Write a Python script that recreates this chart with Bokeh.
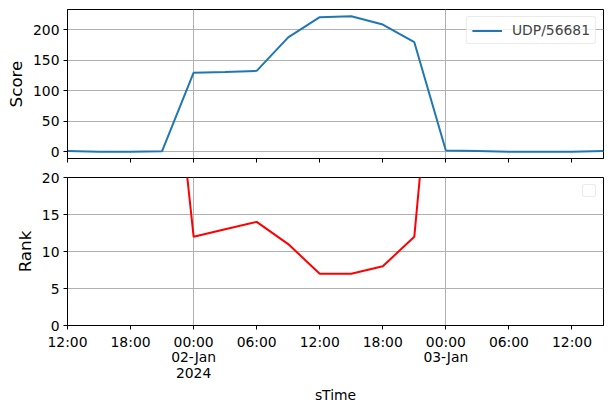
import pandas as pd
from bokeh.plotting import figure
from bokeh.layouts import column
from bokeh.models import Range1d, FixedTicker, Legend, LegendItem, ColumnDataSource
from bokeh.embed import file_html
from bokeh.resources import INLINE

# ---------------- data ----------------
times = [
    "2024-01-01 12:00", "2024-01-01 15:00", "2024-01-01 18:00", "2024-01-01 21:00",
    "2024-01-02 00:00", "2024-01-02 03:00", "2024-01-02 06:00", "2024-01-02 09:00",
    "2024-01-02 12:00", "2024-01-02 15:00", "2024-01-02 18:00", "2024-01-02 21:00",
    "2024-01-03 00:00", "2024-01-03 03:00", "2024-01-03 06:00", "2024-01-03 09:00",
    "2024-01-03 12:00", "2024-01-03 15:00",
]
scores = [1.6, 0.5, 0.5, 1.2, 130, 131, 133, 188, 221, 222.5, 209, 180,
          2.5, 1.5, 0.5, 0.4, 0.4, 1.5]
ranks = [60, 58, 55, 52, 12, 13, 14, 11, 7, 7, 8, 12, 58, 60, 62, 63, 62, 60]
series_name = "UDP/56681"

tick_times = ["2024-01-01 12:00", "2024-01-01 18:00", "2024-01-02 00:00",
              "2024-01-02 06:00", "2024-01-02 12:00", "2024-01-02 18:00",
              "2024-01-03 00:00", "2024-01-03 06:00", "2024-01-03 12:00"]
tick_labels = ["12:00", "18:00", "00:00\n02-Jan\n2024", "06:00", "12:00", "18:00",
               "00:00\n03-Jan", "06:00", "12:00"]
grid_times = ["2024-01-02 00:00", "2024-01-03 00:00"]
score_ticks = [0, 50, 100, 150, 200]
rank_ticks = [0, 5, 10, 15, 20]
rank_limits = (0, 20)

# ---------------- helpers ----------------
def to_ms(strs):
    return [int(t.value // 10**6) for t in pd.to_datetime(strs)]

t_ms = to_ms(times)
tick_ms = to_ms(tick_times)
grid_ms = to_ms(grid_times)

FONT = "DejaVu Sans"
src = ColumnDataSource(dict(t=pd.to_datetime(times), score=scores, rank=ranks))

xr = Range1d(start=t_ms[0], end=t_ms[-1])
span = max(scores) - min(scores)
yr1 = Range1d(start=min(scores) - 0.05 * span, end=max(scores) + 0.05 * span)
yr2 = Range1d(start=rank_limits[0], end=rank_limits[1])


def style(p, yticks):
    p.outline_line_color = "black"
    p.outline_line_width = 1
    p.background_fill_color = "white"
    p.border_fill_color = "white"
    for ax in list(p.xaxis) + list(p.yaxis):
        ax.axis_line_color = "black"
        ax.axis_line_width = 1
        ax.major_tick_line_color = "black"
        ax.major_tick_out = 4
        ax.major_tick_in = 0
        ax.minor_tick_out = 0
        ax.minor_tick_in = 0
        ax.major_label_text_font = FONT
        ax.major_label_text_font_size = "13.9px"
        ax.major_label_text_color = "black"
        ax.major_label_standoff = 4
        ax.axis_label_text_font = FONT
        ax.axis_label_text_font_style = "normal"
        ax.axis_label_text_color = "black"
    p.xaxis.ticker = FixedTicker(ticks=tick_ms)
    p.xaxis.major_label_overrides = {ms: lab for ms, lab in zip(tick_ms, tick_labels)}
    p.yaxis.ticker = FixedTicker(ticks=yticks)
    p.yaxis.axis_label_text_font_size = "16.7px"
    p.yaxis.axis_label_standoff = 4
    p.xgrid.ticker = FixedTicker(ticks=grid_ms)
    for g in list(p.xgrid) + list(p.ygrid):
        g.grid_line_color = "#b0b0b0"
        g.grid_line_width = 1


# ---------------- top: score ----------------
p1 = figure(frame_width=536, frame_height=149, x_axis_type="datetime",
            x_range=xr, y_range=yr1, output_backend="svg", toolbar_location=None,
            min_border_left=67, min_border_right=8, min_border_top=9,
            min_border_bottom=10)
r1 = p1.line("t", "score", source=src, line_color="#1f77b4", line_width=2,
             legend_label=series_name)
style(p1, score_ticks)
p1.yaxis.axis_label = "Score"
# ticks only on the shared time axis of the upper panel (labels not drawn)
p1.xaxis.major_label_text_font_size = "1px"
p1.xaxis.major_label_text_color = None
p1.xaxis.major_label_standoff = 0
lg = p1.legend[0]
lg.location = "top_right"
lg.margin = 7
lg.padding = 5
lg.spacing = 0
lg.glyph_width = 30
lg.glyph_height = 15
lg.label_height = 15
lg.label_standoff = 10
lg.label_text_font = FONT
lg.label_text_font_size = "13.9px"
lg.border_line_color = "#d5d5d5"
lg.border_line_width = 1
lg.background_fill_alpha = 0.8
if "border_radius" in Legend.properties():
    lg.border_radius = 3

# ---------------- bottom: rank ----------------
p2 = figure(frame_width=536, frame_height=148, x_axis_type="datetime",
            x_range=xr, y_range=yr2, output_backend="svg", toolbar_location=None,
            min_border_left=67, min_border_right=8, min_border_top=9,
            min_border_bottom=10)
p2.line("t", "rank", source=src, line_color="red", line_width=2)
style(p2, rank_ticks)
p2.yaxis.axis_label = "Rank"
p2.xaxis.axis_label = "sTime"
p2.xaxis.axis_label_text_font_size = "13.9px"
p2.xaxis.axis_label_standoff = 3
p2.xaxis.major_label_text_line_height = 0.97

# empty legend box (the reference shows an empty legend frame)
dummy = p2.line(x=[], y=[], line_alpha=0)
lg2 = Legend(items=[LegendItem(label=" ", renderers=[dummy])], location="top_right",
             margin=7, padding=5, spacing=0, glyph_width=1, glyph_height=1,
             label_height=1, label_width=1, label_standoff=0,
             label_text_font_size="1px", label_text_color=None,
             border_line_color="#d5d5d5",
             border_line_width=1, background_fill_alpha=0.8)
if "border_radius" in Legend.properties():
    lg2.border_radius = 3
p2.add_layout(lg2)

layout = column(p1, p2, spacing=0)
open("out.html", "w").write(file_html(layout, INLINE))
